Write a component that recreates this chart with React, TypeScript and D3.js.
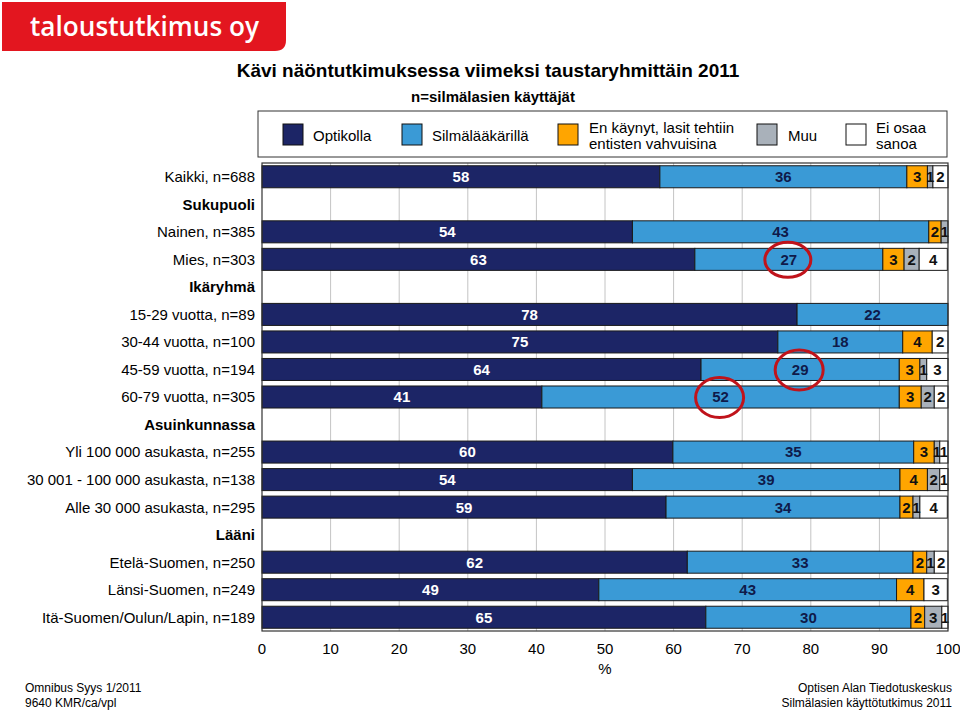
import React from "react";
import * as d3 from "d3";

const categories = [
  "Kaikki, n=688",
  "Sukupuoli",
  "Nainen, n=385",
  "Mies, n=303",
  "Ikäryhmä",
  "15-29 vuotta, n=89",
  "30-44 vuotta, n=100",
  "45-59 vuotta, n=194",
  "60-79 vuotta, n=305",
  "Asuinkunnassa",
  "Yli 100 000 asukasta, n=255",
  "30 001 - 100 000 asukasta, n=138",
  "Alle 30 000 asukasta, n=295",
  "Lääni",
  "Etelä-Suomen, n=250",
  "Länsi-Suomen, n=249",
  "Itä-Suomen/Oulun/Lapin, n=189",
];
const headerRows = ["Sukupuoli", "Ikäryhmä", "Asuinkunnassa", "Lääni"];

const seriesNames = [
  "Optikolla",
  "Silmälääkärillä",
  "En käynyt, lasit tehtiin|entisten vahvuisina",
  "Muu",
  "Ei osaa|sanoa",
];
const seriesColors = ["#1c2566", "#3a9ad6", "#ffa500", "#a9b1ba", "#ffffff"];
const labelColors = ["#ffffff", "#0f1a4a", "#111111", "#111111", "#111111"];

// values per category (null = header row)
const optikolla = [58, null, 54, 63.1, null, 78, 75.2, 64, 40.8, null, 59.9, 54, 58.9, null, 62, 49.1, 64.7];
const silmalaakari = [36, null, 43.2, 27.4, null, 22, 18.2, 28.9, 52.1, null, 35.1, 39, 34.1, null, 32.9, 43.4, 29.9];
const enKaynyt = [3, null, 1.8, 3.1, null, 0, 4.3, 3, 3.2, null, 3, 4, 1.9, null, 2, 4, 2];
const muu = [0.8, null, 1, 2.2, null, 0, 0, 1, 1.9, null, 0.8, 1.8, 1, null, 1.1, 0, 2.5];
const eiOsaa = [2.2, null, 0, 4.1, null, 0, 2.3, 3.1, 2, null, 1.2, 1.2, 4, null, 2, 3.4, 0.9];

const series = [optikolla, silmalaakari, enKaynyt, muu, eiOsaa];
const xTicks = [0, 10, 20, 30, 40, 50, 60, 70, 80, 90, 100];
const highlighted = [
  { category: "Mies, n=303", series: 1 },
  { category: "45-59 vuotta, n=194", series: 1 },
  { category: "60-79 vuotta, n=305", series: 1 },
];

const FONT = "'Liberation Sans', Arial, Helvetica, sans-serif";

export default function App() {
  const W = 960;
  const H = 710;
  const x = d3.scaleLinear().domain([0, 100]).range([262, 948]);
  const y = d3
    .scaleBand<string>()
    .domain(categories)
    .range([163, 631])
    .paddingInner(0.2)
    .paddingOuter(0.1);
  const bw = y.bandwidth();

  const rows = categories.map((c, i) => {
    let acc = 0;
    const segs: { s: number; x0: number; x1: number; v: number }[] = [];
    series.forEach((arr, s) => {
      const v = arr[i];
      if (v === null || v === undefined) return;
      segs.push({ s, x0: acc, x1: acc + v, v });
      acc += v;
    });
    return { c, segs };
  });

  const legendItems = [
    { x: 283, tx: 313 },
    { x: 402, tx: 432 },
    { x: 558, tx: 589 },
    { x: 757, tx: 788 },
    { x: 846, tx: 876 },
  ];

  return (
    <svg width={W} height={H} style={{ display: "block", position: "absolute", left: 0, top: 0 }} fontFamily={FONT}>
      <rect x={0} y={0} width={W} height={H} fill="#ffffff" />
      {/* Logo */}
      <path d="M2,2 H286 V40 Q286,51 275,51 H2 Z" fill="#e3161f" />
      <text
        x={30}
        y={36}
        fill="#ffffff"
        fontSize={27}
        fontWeight={600}
        fontFamily="'Open Sans', 'Noto Sans', sans-serif"
        textLength={229}
        lengthAdjust="spacingAndGlyphs"
      >
        taloustutkimus oy
      </text>

      {/* Titles */}
      <text x={488} y={77} textAnchor="middle" fontSize={19} fontWeight="bold" fill="#000">
        Kävi näöntutkimuksessa viimeksi taustaryhmittäin 2011
      </text>
      <text x={493} y={102} textAnchor="middle" fontSize={15} fontWeight="bold" fill="#000">
        n=silmälasien käyttäjät
      </text>

      {/* Legend */}
      <rect x={258} y={111} width={689} height={46} fill="#fff" stroke="#333" strokeWidth={1} />
      {seriesNames.map((name, i) => {
        const lines = name.split("|");
        const it = legendItems[i];
        return (
          <g key={name}>
            <rect x={it.x} y={124} width={20} height={21} fill={seriesColors[i]} stroke="#111" strokeWidth={1} />
            {lines.map((ln, j) => (
              <text
                key={j}
                x={it.tx}
                y={lines.length === 1 ? 135 : 127 + j * 16}
                dominantBaseline="central"
                fontSize={15}
                fill="#000"
              >
                {ln}
              </text>
            ))}
          </g>
        );
      })}

      {/* Grid */}
      {xTicks.slice(1, -1).map((t) => (
        <line key={t} x1={x(t)} x2={x(t)} y1={163} y2={631} stroke="#c4c4c4" strokeWidth={1} />
      ))}

      {/* Bars */}
      {rows.map((r) =>
        r.segs.map((sg) =>
          sg.v > 0 ? (
            <rect
              key={r.c + sg.s}
              x={x(sg.x0)}
              y={y(r.c)!}
              width={x(sg.x1) - x(sg.x0)}
              height={bw}
              fill={seriesColors[sg.s]}
              stroke="#1a1a1a"
              strokeWidth={1}
            />
          ) : null
        )
      )}
      {rows.map((r) =>
        r.segs.map((sg) =>
          sg.v > 0 ? (
            <text
              key={"l" + r.c + sg.s}
              x={(x(sg.x0) + x(sg.x1)) / 2}
              y={y(r.c)! + bw / 2}
              dy="0.36em"
              textAnchor="middle"
              fontSize={15}
              fontWeight="bold"
              fill={labelColors[sg.s]}
            >
              {Math.round(sg.v)}
            </text>
          ) : null
        )
      )}

      {/* Frame */}
      <rect x={262} y={163} width={686} height={468} fill="none" stroke="#333" strokeWidth={1.2} />

      {/* Highlight ellipses */}
      {highlighted.map((h) => {
        const i = categories.indexOf(h.category);
        const r = rows[i];
        const sg = r.segs.find((s) => s.s === h.series)!;
        const cx = (x(sg.x0) + x(sg.x1)) / 2 - 1;
        const cy = y(h.category)! + bw / 2;
        const big = h.category !== "Mies, n=303";
        return (
          <ellipse
            key={h.category}
            cx={cx}
            cy={cy + 0.5}
            rx={big ? 24 : 23}
            ry={big ? 20 : 17.5}
            fill="none"
            stroke="#c0131b"
            strokeWidth={3}
          />
        );
      })}

      {/* Category labels */}
      {categories.map((c) => (
        <text
          key={c}
          x={255}
          y={y(c)! + bw / 2}
          dy="0.36em"
          textAnchor="end"
          fontSize={15}
          fontWeight={headerRows.includes(c) ? "bold" : "normal"}
          fill="#000"
        >
          {c}
        </text>
      ))}

      {/* X axis labels */}
      {xTicks.map((t) => (
        <text key={t} x={x(t)} y={649} dy="0.36em" textAnchor="middle" fontSize={15} fill="#000">
          {t}
        </text>
      ))}
      <text x={x(50)} y={669} dy="0.36em" textAnchor="middle" fontSize={15} fill="#000">
        %
      </text>

      {/* Footer */}
      <text x={25} y={692} fontSize={12} fill="#000">Omnibus Syys 1/2011</text>
      <text x={25} y={707} fontSize={12} fill="#000">9640 KMR/ca/vpl</text>
      <text x={952} y={692} textAnchor="end" fontSize={12} fill="#000">Optisen Alan Tiedotuskeskus</text>
      <text x={952} y={707} textAnchor="end" fontSize={12} fill="#000">Silmälasien käyttötutkimus 2011</text>
    </svg>
  );
}
